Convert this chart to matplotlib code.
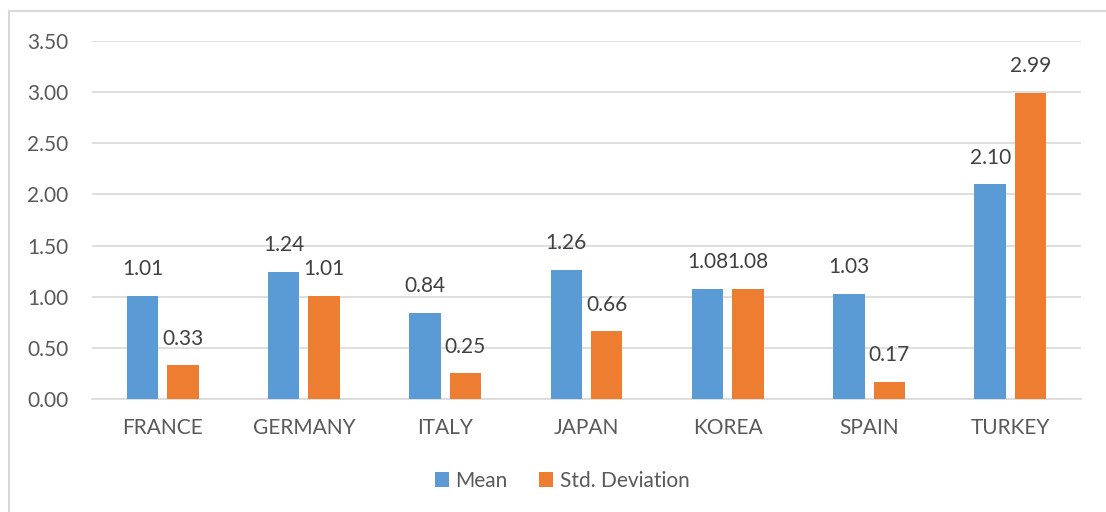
import matplotlib
matplotlib.use("Agg")
import matplotlib.pyplot as plt
from matplotlib.patches import Rectangle, Patch
import numpy as np

plt.rcParams['font.family'] = ['Lato', 'DejaVu Sans']

countries = ["FRANCE", "GERMANY", "ITALY", "JAPAN", "KOREA", "SPAIN", "TURKEY"]
mean_vals = [1.01, 1.24, 0.84, 1.26, 1.08, 1.03, 2.10]
std_vals = [0.33, 1.01, 0.25, 0.66, 1.08, 0.17, 2.99]
y_ticks = [0.0, 0.5, 1.0, 1.5, 2.0, 2.5, 3.0, 3.5]

BLUE = "#5B9BD5"
ORANGE = "#ED7D31"
GRID = "#D9D9D9"
TICK_TXT = "#595959"
LABEL_TXT = "#404040"
FS = 15

W, H = 1106, 512
fig = plt.figure(figsize=(W / 100, H / 100), dpi=100)
ax = fig.add_axes([92 / W, 1 - 399 / H, (1081 - 92) / W, (399 - 41) / H])

x = np.arange(len(countries))
bw = 0.223
off = 0.143
b1 = ax.bar(x - off, mean_vals, bw, color=BLUE, zorder=3)
b2 = ax.bar(x + off, std_vals, bw, color=ORANGE, zorder=3)

for bars, vals in ((b1, mean_vals), (b2, std_vals)):
    for rect, v in zip(bars, vals):
        ax.annotate(f"{v:.2f}", (rect.get_x() + rect.get_width() / 2, v),
                    xytext=(0, 12), textcoords="offset points",
                    ha="center", va="bottom", fontsize=FS, color=LABEL_TXT)

ax.set_xlim(-0.5, len(countries) - 0.5)
ax.set_ylim(0, 3.5)
ax.set_yticks(y_ticks)
ax.set_yticklabels([f"{t:.2f}" for t in y_ticks])
ax.set_xticks(x)
ax.set_xticklabels(countries)
ax.tick_params(axis="y", length=0, pad=17, labelsize=FS, labelcolor=TICK_TXT)
ax.tick_params(axis="x", length=0, pad=14, labelsize=FS, labelcolor=TICK_TXT)
ax.yaxis.grid(True, color=GRID, linewidth=1.2, zorder=0)
ax.set_axisbelow(True)
for s in ("left", "right", "top"):
    ax.spines[s].set_visible(False)
ax.spines["bottom"].set_color(GRID)
ax.spines["bottom"].set_linewidth(1.2)

handles = [Patch(facecolor=BLUE, label="Mean"),
           Patch(facecolor=ORANGE, label="Std. Deviation")]
fig.legend(handles=handles, loc="center", bbox_to_anchor=(562 / W, 1 - 481 / H),
           ncol=2, frameon=False, fontsize=FS, handlelength=0.7, handleheight=0.7,
           handletextpad=0.3, columnspacing=1.5, labelcolor=TICK_TXT)

fig.patches.append(Rectangle((9 / W, -0.1), 1.2, 1.1 - 11 / H,
                             transform=fig.transFigure, fill=False,
                             edgecolor=GRID, linewidth=1.5))

fig.savefig("out.png", dpi=100)
